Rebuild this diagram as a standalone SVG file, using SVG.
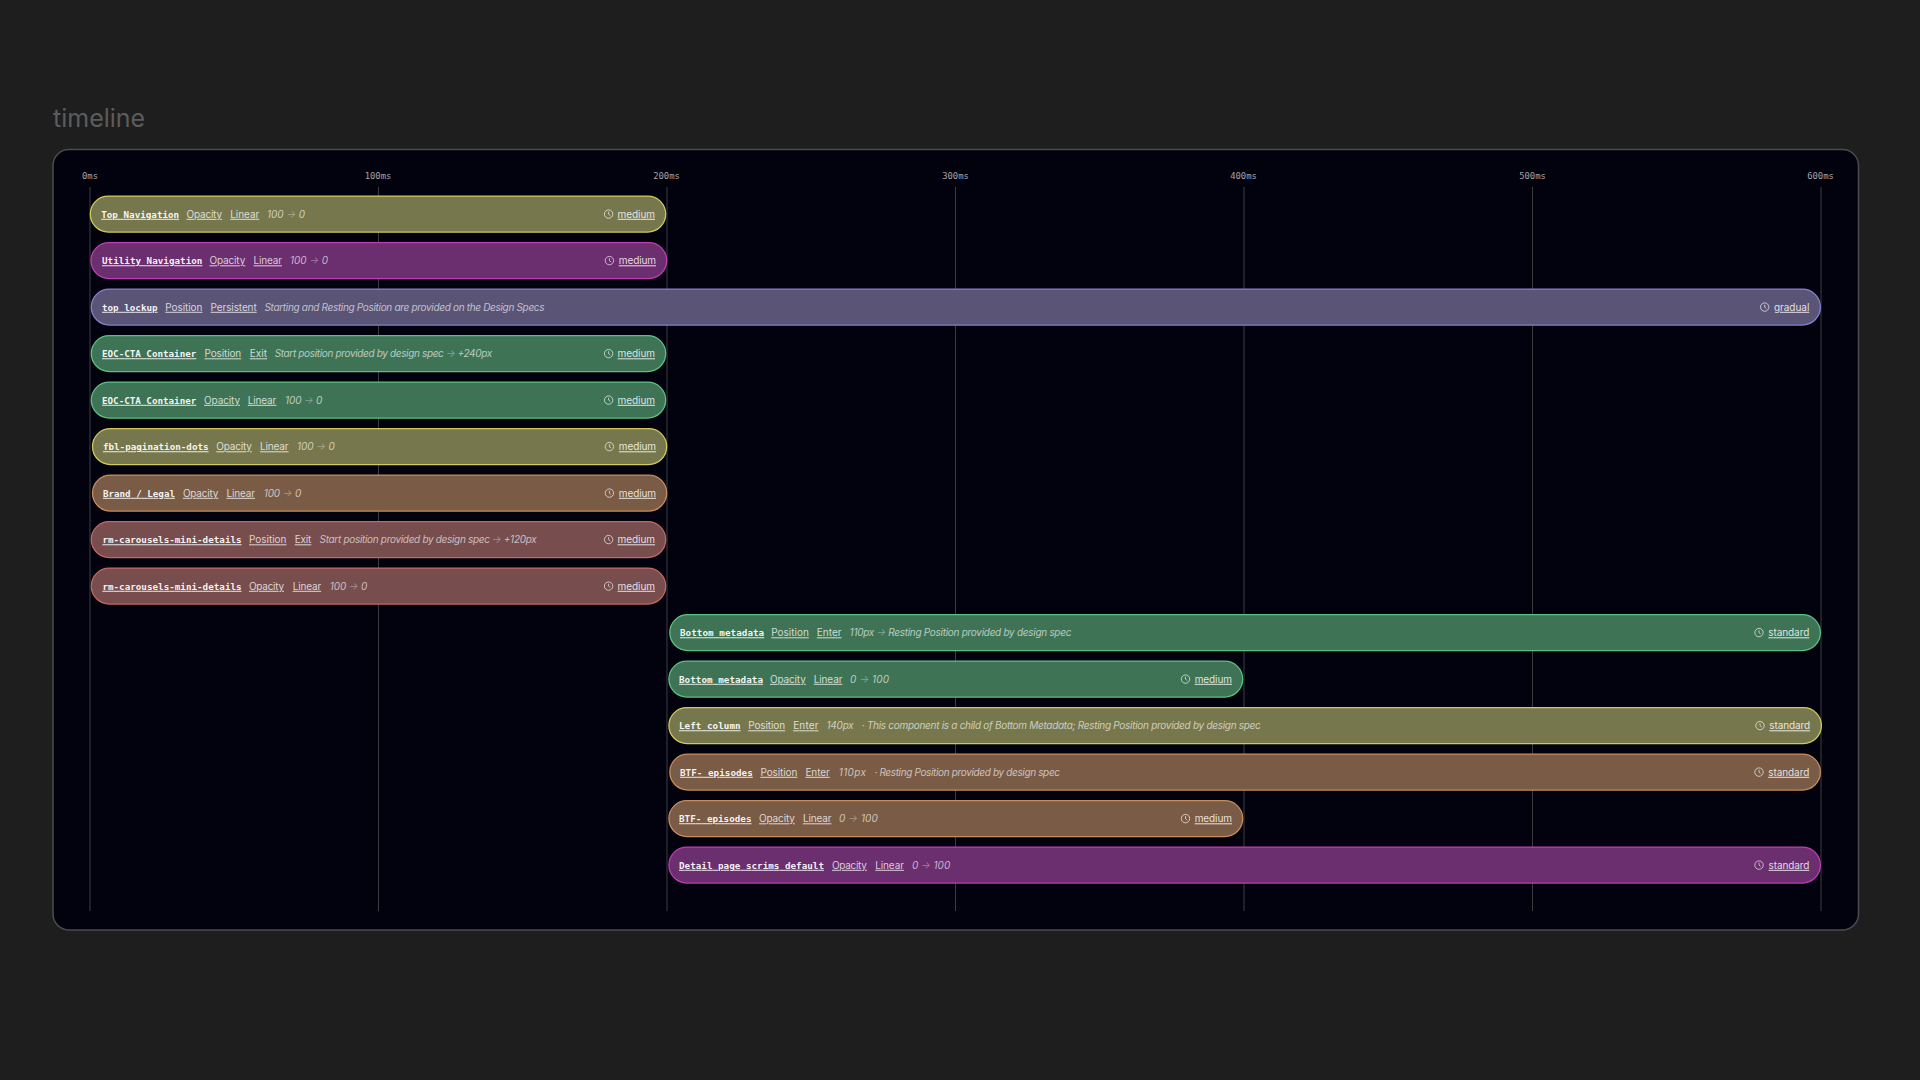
<svg xmlns="http://www.w3.org/2000/svg" width="1920" height="1080" viewBox="0 0 1920 1080">
<style>
text{font-family:Inter,"Noto Sans",sans-serif;font-size:10px;text-decoration:underline;text-underline-offset:2.500px;}
.n{font-family:"DejaVu Sans Mono","Liberation Mono",monospace;font-size:9.25px;font-weight:700;fill:#fff;fill-opacity:.95;}
.k{fill:#fff;fill-opacity:.76;}
.d{font-style:italic;fill:#fff;fill-opacity:.64;text-decoration:none;}
.a{fill-opacity:.38;}
.m{fill:#fff;fill-opacity:.84;}
.t{font-family:"DejaVu Sans Mono","Liberation Mono",monospace;font-size:8.900px;fill:#a4a4a8;text-anchor:middle;text-decoration:none;}
.title{font-family:Inter,sans-serif;font-size:25px;fill:#5c5c5c;text-decoration:none;}
.bar{stroke-width:1.300;}
.y{fill:#77774d;stroke:#cfc95e;}
.p{fill:#6b2e6f;stroke:#c03cb4;}
.l{fill:#5a5477;stroke:#8a7ed0;}
.g{fill:#3f7355;stroke:#58c282;}
.b{fill:#795b46;stroke:#c88c5a;}
.r{fill:#774d4d;stroke:#c46666;}
.grid line{stroke:#3c3c40;stroke-width:1;}
</style>
<defs>
<g id="clock" fill="none" stroke="#fff" stroke-opacity=".64" stroke-width="1">
<circle r="4.200"/><path d="M0-2.400V0L1.700 1.400"/>
</g>
</defs>
<rect width="1920" height="1080" fill="#1e1e1e"/>
<text class="title" x="53" y="127">timeline</text>
<rect id="panel" x="53" y="149.500" width="1805.500" height="780.500" rx="16" fill="#02020e" stroke="#4c4c4e" stroke-width="1.500"/>
<g id="axis">
<text class="t" x="90" y="179">0ms</text>
<text class="t" x="378" y="179">100ms</text>
<text class="t" x="666.500" y="179">200ms</text>
<text class="t" x="955.500" y="179">300ms</text>
<text class="t" x="1243.500" y="179">400ms</text>
<text class="t" x="1532.500" y="179">500ms</text>
<text class="t" x="1820.500" y="179">600ms</text>
</g>
<g id="connectors" class="grid">
<line x1="90" y1="187" x2="90" y2="911"/>
<line x1="378.500" y1="187" x2="378.500" y2="911"/>
<line x1="667" y1="187" x2="667" y2="911"/>
<line x1="955.500" y1="187" x2="955.500" y2="911"/>
<line x1="1244" y1="187" x2="1244" y2="911"/>
<line x1="1532.500" y1="187" x2="1532.500" y2="911"/>
<line x1="1821" y1="187" x2="1821" y2="911"/>
</g>
<g id="row1" transform="translate(0,217.800)">
<rect class="bar y" x="90.300" y="-21.700" width="575.400" height="36" rx="18"/>
<text class="n" x="101.200" textLength="78">Top Navigation</text>
<text class="k" x="186.500" textLength="35.500">Opacity</text>
<text class="k" x="230.200" textLength="29">Linear</text>
<text class="d" x="267" textLength="38">100 <tspan class="a">→</tspan> 0</text>
<use href="#clock" x="608.600" y="-3.700"/>
<text class="m" x="617.600" textLength="37.400">medium</text>
</g>
<g id="row2" transform="translate(0,264.300)">
<rect class="bar p" x="91" y="-21.700" width="575.700" height="36" rx="18"/>
<text class="n" x="102" textLength="100.400">Utility Navigation</text>
<text class="k" x="209.400" textLength="35.900">Opacity</text>
<text class="k" x="253.500" textLength="28.500">Linear</text>
<text class="d" x="290" textLength="38">100 <tspan class="a">→</tspan> 0</text>
<use href="#clock" x="609.400" y="-3.700"/>
<text class="m" x="618.800" textLength="37.200">medium</text>
</g>
<g id="row3" transform="translate(0,310.800)">
<rect class="bar l" x="91.300" y="-21.700" width="1729.100" height="36" rx="18"/>
<text class="n" x="102" textLength="55.600">top lockup</text>
<text class="k" x="165.300" textLength="37.100">Position</text>
<text class="k" x="210.600" textLength="46.100">Persistent</text>
<text class="d" x="264.500" textLength="280">Starting and Resting Position are provided on the Design Specs</text>
<use href="#clock" x="1764.700" y="-3.700"/>
<text class="m" x="1774" textLength="35.300">gradual</text>
</g>
<g id="row4" transform="translate(0,357.300)">
<rect class="bar g" x="91.300" y="-21.700" width="574.400" height="36" rx="18"/>
<text class="n" x="102" textLength="94.300">EOC-CTA Container</text>
<text class="k" x="204.500" textLength="36.700">Position</text>
<text class="k" x="249.800" textLength="17.200">Exit</text>
<text class="d" x="274.700" textLength="217.500">Start position provided by design spec <tspan class="a">→</tspan> +240px</text>
<use href="#clock" x="608.600" y="-3.700"/>
<text class="m" x="617.600" textLength="37.400">medium</text>
</g>
<g id="row5" transform="translate(0,403.800)">
<rect class="bar g" x="91.300" y="-21.700" width="574.400" height="36" rx="18"/>
<text class="n" x="102" textLength="94.300">EOC-CTA Container</text>
<text class="k" x="204" textLength="36">Opacity</text>
<text class="k" x="247.800" textLength="28.500">Linear</text>
<text class="d" x="285" textLength="37.400">100 <tspan class="a">→</tspan> 0</text>
<use href="#clock" x="608.600" y="-3.700"/>
<text class="m" x="617.600" textLength="37.400">medium</text>
</g>
<g id="row6" transform="translate(0,450.300)">
<rect class="bar y" x="92.500" y="-21.700" width="574.200" height="36" rx="18"/>
<text class="n" x="102.900" textLength="105.700">fbl-pagination-dots</text>
<text class="k" x="216.300" textLength="35.500">Opacity</text>
<text class="k" x="260" textLength="28.600">Linear</text>
<text class="d" x="297" textLength="37.700">100 <tspan class="a">→</tspan> 0</text>
<use href="#clock" x="609.400" y="-3.700"/>
<text class="m" x="618.800" textLength="37.200">medium</text>
</g>
<g id="row7" transform="translate(0,496.800)">
<rect class="bar b" x="92.500" y="-21.700" width="574.200" height="36" rx="18"/>
<text class="n" x="102.900" textLength="72.100">Brand / Legal</text>
<text class="k" x="182.900" textLength="35.500">Opacity</text>
<text class="k" x="226.500" textLength="28.500">Linear</text>
<text class="d" x="263.700" textLength="37.500">100 <tspan class="a">→</tspan> 0</text>
<use href="#clock" x="609.400" y="-3.700"/>
<text class="m" x="618.800" textLength="37.200">medium</text>
</g>
<g id="row8" transform="translate(0,543.300)">
<rect class="bar r" x="91.300" y="-21.700" width="574.400" height="36" rx="18"/>
<text class="n" x="102.400" textLength="139.200">rm-carousels-mini-details</text>
<text class="k" x="249" textLength="37.500">Position</text>
<text class="k" x="294.700" textLength="16.700">Exit</text>
<text class="d" x="319.600" textLength="217.100">Start position provided by design spec <tspan class="a">→</tspan> +120px</text>
<use href="#clock" x="608.600" y="-3.700"/>
<text class="m" x="617.600" textLength="37.400">medium</text>
</g>
<g id="row9" transform="translate(0,589.800)">
<rect class="bar r" x="91.300" y="-21.700" width="574.400" height="36" rx="18"/>
<text class="n" x="102.400" textLength="139.200">rm-carousels-mini-details</text>
<text class="k" x="249" textLength="35">Opacity</text>
<text class="k" x="292.700" textLength="28.500">Linear</text>
<text class="d" x="329.800" textLength="37.500">100 <tspan class="a">→</tspan> 0</text>
<use href="#clock" x="608.600" y="-3.700"/>
<text class="m" x="617.600" textLength="37.400">medium</text>
</g>
<g id="row10" transform="translate(0,636.300)">
<rect class="bar g" x="669.800" y="-21.700" width="1150.600" height="36" rx="18"/>
<text class="n" x="680" textLength="84.200">Bottom metadata</text>
<text class="k" x="771.300" textLength="37.500">Position</text>
<text class="k" x="816.800" textLength="24.800">Enter</text>
<text class="d" x="849.600" textLength="221.800">110px <tspan class="a">→</tspan> Resting Position provided by design spec</text>
<use href="#clock" x="1759" y="-3.700"/>
<text class="m" x="1768.300" textLength="41">standard</text>
</g>
<g id="row11" transform="translate(0,682.800)">
<rect class="bar g" x="668.900" y="-21.700" width="573.800" height="36" rx="18"/>
<text class="n" x="679" textLength="84">Bottom metadata</text>
<text class="k" x="770" textLength="35.800">Opacity</text>
<text class="k" x="813.800" textLength="28.600">Linear</text>
<text class="d" x="850" textLength="39">0 <tspan class="a">→</tspan> 100</text>
<use href="#clock" x="1185.500" y="-3.700"/>
<text class="m" x="1194.700" textLength="37.300">medium</text>
</g>
<g id="row12" transform="translate(0,729.300)">
<rect class="bar y" x="668.900" y="-21.700" width="1152.500" height="36" rx="18"/>
<text class="n" x="679" textLength="61.600">Left column</text>
<text class="k" x="748.200" textLength="37">Position</text>
<text class="k" x="793.200" textLength="25.300">Enter</text>
<text class="d" x="826.400" textLength="27.400">140px</text>
<text class="d" x="861.800" textLength="399">· This component is a child of Bottom Metadata; Resting Position provided by design spec</text>
<use href="#clock" x="1760" y="-3.700"/>
<text class="m" x="1769.300" textLength="40.700">standard</text>
</g>
<g id="row13" transform="translate(0,775.800)">
<rect class="bar b" x="669.800" y="-21.700" width="1150.600" height="36" rx="18"/>
<text class="n" x="680" textLength="72.800">BTF- episodes</text>
<text class="k" x="760.400" textLength="37">Position</text>
<text class="k" x="805.400" textLength="24.400">Enter</text>
<text class="d" x="838.700" textLength="27.300">110px</text>
<text class="d" x="874.400" textLength="185.600">· Resting Position provided by design spec</text>
<use href="#clock" x="1759" y="-3.700"/>
<text class="m" x="1768.300" textLength="41">standard</text>
</g>
<g id="row14" transform="translate(0,822.300)">
<rect class="bar b" x="668.900" y="-21.700" width="573.800" height="36" rx="18"/>
<text class="n" x="679" textLength="72.500">BTF- episodes</text>
<text class="k" x="759" textLength="35.900">Opacity</text>
<text class="k" x="802.900" textLength="28.600">Linear</text>
<text class="d" x="839" textLength="38.800">0 <tspan class="a">→</tspan> 100</text>
<use href="#clock" x="1185.500" y="-3.700"/>
<text class="m" x="1194.700" textLength="37.300">medium</text>
</g>
<g id="row15" transform="translate(0,868.800)">
<rect class="bar p" x="668.900" y="-21.700" width="1151.500" height="36" rx="18"/>
<text class="n" x="679" textLength="145">Detail page scrims default</text>
<text class="k" x="832" textLength="34.900">Opacity</text>
<text class="k" x="875.300" textLength="28.600">Linear</text>
<text class="d" x="911.900" textLength="38.300">0 <tspan class="a">→</tspan> 100</text>
<use href="#clock" x="1759" y="-3.700"/>
<text class="m" x="1768.600" textLength="40.700">standard</text>
</g>
</svg>
